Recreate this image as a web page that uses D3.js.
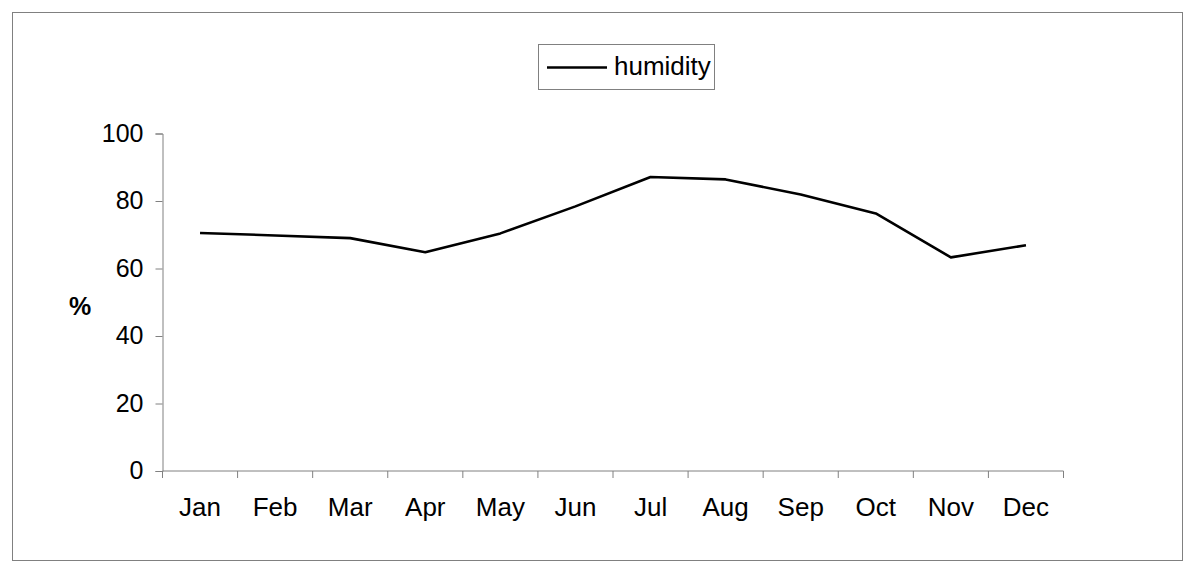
<!DOCTYPE html>
<html>
<head>
<meta charset="utf-8">
<script src="https://cdn.jsdelivr.net/npm/d3@7"></script>
<style>
  body { margin: 0; background: #fff; }
  svg { font-family: "Liberation Sans", Arial, sans-serif; }
</style>
</head>
<body>
<svg id="chart" width="1200" height="576"></svg>
<script>
// data
const months = ["Jan", "Feb", "Mar", "Apr", "May", "Jun", "Jul", "Aug", "Sep", "Oct", "Nov", "Dec"];
const humidity = [70.5, 69.8, 69.0, 64.8, 70.4, 78.4, 87.1, 86.4, 81.9, 76.3, 63.3, 66.9];
const yTicks = [0, 20, 40, 60, 80, 100];

const svg = d3.select("#chart");

// outer frame
svg.append("rect")
  .attr("x", 12.5).attr("y", 12.5)
  .attr("width", 1170).attr("height", 548)
  .attr("fill", "none").attr("stroke", "#808080").attr("stroke-width", 1);

const plot = { left: 162.5, right: 1063.5, top: 133.5, bottom: 471 };

const x = d3.scaleBand().domain(months).range([plot.left, plot.right]);
const y = d3.scaleLinear().domain([0, 100]).range([plot.bottom, plot.top]);

// y axis
const yAxis = svg.append("g")
  .attr("transform", `translate(${plot.left},0)`)
  .call(d3.axisLeft(y).tickValues(yTicks).tickSize(7).tickPadding(12));
yAxis.select(".domain").attr("stroke", "#808080");
yAxis.selectAll(".tick line").attr("stroke", "#808080");
yAxis.selectAll(".tick text")
  .attr("font-size", 25).attr("fill", "#000").attr("dy", "0.3em")
  .attr("font-family", "Liberation Sans, Arial, sans-serif");

// x axis with ticks on the category boundaries
const xAxis = svg.append("g")
  .attr("transform", `translate(0,${plot.bottom})`)
  .call(d3.axisBottom(x).tickSize(0).tickPadding(27));
xAxis.select(".domain").attr("stroke", "#808080").attr("d", `M${plot.left},0H${plot.right}`);
xAxis.selectAll(".tick text")
  .attr("font-size", 26).attr("fill", "#000").attr("dy", "0.71em")
  .attr("font-family", "Liberation Sans, Arial, sans-serif");
xAxis.selectAll(".boundary")
  .data(months.concat([null]))
  .enter()
  .append("line")
  .attr("class", "boundary")
  .attr("x1", (d, i) => plot.left + i * x.step())
  .attr("x2", (d, i) => plot.left + i * x.step())
  .attr("y1", 0).attr("y2", 7)
  .attr("stroke", "#808080");

// y axis label
svg.append("text")
  .attr("x", 80).attr("y", 315)
  .attr("text-anchor", "middle")
  .attr("font-size", 25).attr("font-weight", "bold")
  .text("%");

// humidity line
const line = d3.line()
  .x((d, i) => x(months[i]) + x.bandwidth() / 2)
  .y((d) => y(d));

svg.append("path")
  .datum(humidity)
  .attr("d", line)
  .attr("fill", "none")
  .attr("stroke", "#000")
  .attr("stroke-width", 2.6)
  .attr("stroke-linejoin", "round");

// legend
const legend = svg.append("g");
legend.append("rect")
  .attr("x", 538.5).attr("y", 44.5)
  .attr("width", 176).attr("height", 45)
  .attr("fill", "#fff").attr("stroke", "#808080");
legend.append("line")
  .attr("x1", 547).attr("x2", 607)
  .attr("y1", 67.5).attr("y2", 67.5)
  .attr("stroke", "#000").attr("stroke-width", 2.6);
legend.append("text")
  .attr("x", 614).attr("y", 75)
  .attr("font-size", 26)
  .text("humidity");
</script>
</body>
</html>
